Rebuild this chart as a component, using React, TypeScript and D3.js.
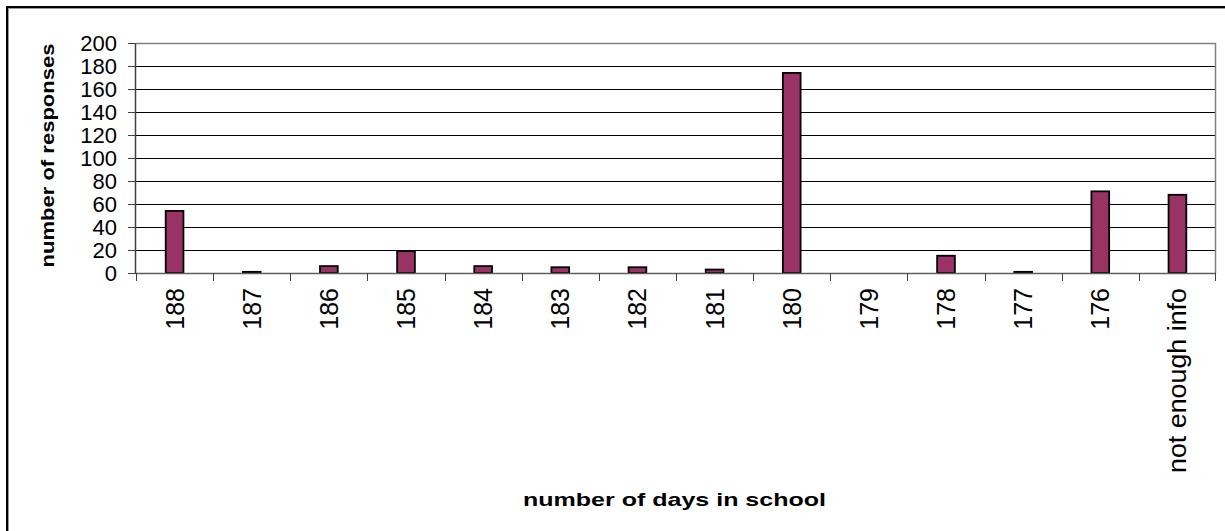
import React from "react";
import * as d3 from "d3";

const categories = ["188", "187", "186", "185", "184", "183", "182", "181", "180", "179", "178", "177", "176", "not enough info"];
const responses = [54, 1, 6, 19, 6, 5, 5, 3, 174, 0, 15, 1, 71, 68];
const yTicks = [0, 20, 40, 60, 80, 100, 120, 140, 160, 180, 200];
const xTitle = "number of days in school";
const yTitle = "number of responses";

const W = 1225;
const H = 531;
const plot = { left: 136, top: 43, right: 1216, bottom: 273 };

export default function App() {
  const x = d3.scaleBand<string>().domain(categories).range([plot.left, plot.right]).paddingInner(0).paddingOuter(0);
  const y = d3.scaleLinear().domain([0, 200]).range([plot.bottom, plot.top]);
  const barW = x.bandwidth() * 0.23;
  const font = "Arial, 'Liberation Sans', Helvetica, sans-serif";

  return (
    <svg width={W} height={H} style={{ position: "absolute", left: 0, top: 0, background: "#fff" }} fontFamily={font}>
      <rect x={0} y={0} width={W} height={H} fill="#fff" />
      {/* outer chart frame */}
      <rect x={8.5} y={8.5} width={W + 20} height={H + 20} fill="none" stroke="#999" strokeWidth={1} />
      <rect x={7} y={7} width={W + 20} height={H + 20} fill="none" stroke="#000" strokeWidth={2} />

      {/* gridlines */}
      {yTicks.filter((t) => t > 0 && t < 200).map((t) => (
        <line key={t} x1={plot.left} x2={plot.right} y1={Math.round(y(t)) + 0.5} y2={Math.round(y(t)) + 0.5} stroke="#000" strokeWidth={1} />
      ))}
      {/* plot area border top/right */}
      <line x1={plot.left} x2={plot.right} y1={plot.top + 0.5} y2={plot.top + 0.5} stroke="#808080" strokeWidth={1.5} />
      <line x1={plot.right - 0.5} x2={plot.right - 0.5} y1={plot.top} y2={plot.bottom} stroke="#808080" strokeWidth={1.5} />

      {/* bars */}
      {categories.map((c, i) => {
        const v = responses[i];
        if (v <= 0) return null;
        const cx = (x(c) as number) + x.bandwidth() / 2;
        return (
          <rect key={c} x={cx - barW / 2} y={y(v)} width={barW} height={y(0) - y(v)} fill="#993366" stroke="#000" strokeWidth={1.8} />
        );
      })}

      {/* y axis */}
      <line x1={plot.left - 0.5} x2={plot.left - 0.5} y1={plot.top} y2={plot.bottom} stroke="#404040" strokeWidth={1.5} />
      {yTicks.map((t) => (
        <g key={t}>
          <line x1={plot.left - 8} x2={plot.left} y1={Math.round(y(t)) + 0.5} y2={Math.round(y(t)) + 0.5} stroke="#404040" strokeWidth={1} />
          <text x={117} y={y(t)} dy="0.36em" textAnchor="end" fontSize={22}>{t}</text>
        </g>
      ))}

      {/* x axis */}
      <line x1={plot.left} x2={plot.right} y1={plot.bottom + 0.5} y2={plot.bottom + 0.5} stroke="#606060" strokeWidth={1.5} />
      {categories.map((c) => (
        <line key={"t" + c} x1={Math.round(x(c) as number) + 0.5} x2={Math.round(x(c) as number) + 0.5} y1={plot.bottom} y2={plot.bottom + 8} stroke="#404040" strokeWidth={1} />
      ))}
      <line x1={plot.right - 0.5} x2={plot.right - 0.5} y1={plot.bottom} y2={plot.bottom + 8} stroke="#404040" strokeWidth={1} />
      {categories.map((c) => {
        const cx = (x(c) as number) + x.bandwidth() / 2;
        const long = c.length > 4;
        return (
          <text key={"l" + c} transform={`translate(${cx},288) rotate(-90)`} textAnchor="end" dy="0.36em" fontSize={25}
            {...(long ? { textLength: 185, lengthAdjust: "spacingAndGlyphs" } : {})}>
            {c}
          </text>
        );
      })}

      {/* axis titles */}
      <text x={(523 + 826) / 2} y={506} textAnchor="middle" fontWeight="bold" fontSize={19} textLength={303} lengthAdjust="spacingAndGlyphs">{xTitle}</text>
      <text transform={`translate(54,${(43 + 268) / 2}) rotate(-90)`} textAnchor="middle" fontWeight="bold" fontSize={18} textLength={224} lengthAdjust="spacingAndGlyphs">{yTitle}</text>
    </svg>
  );
}
